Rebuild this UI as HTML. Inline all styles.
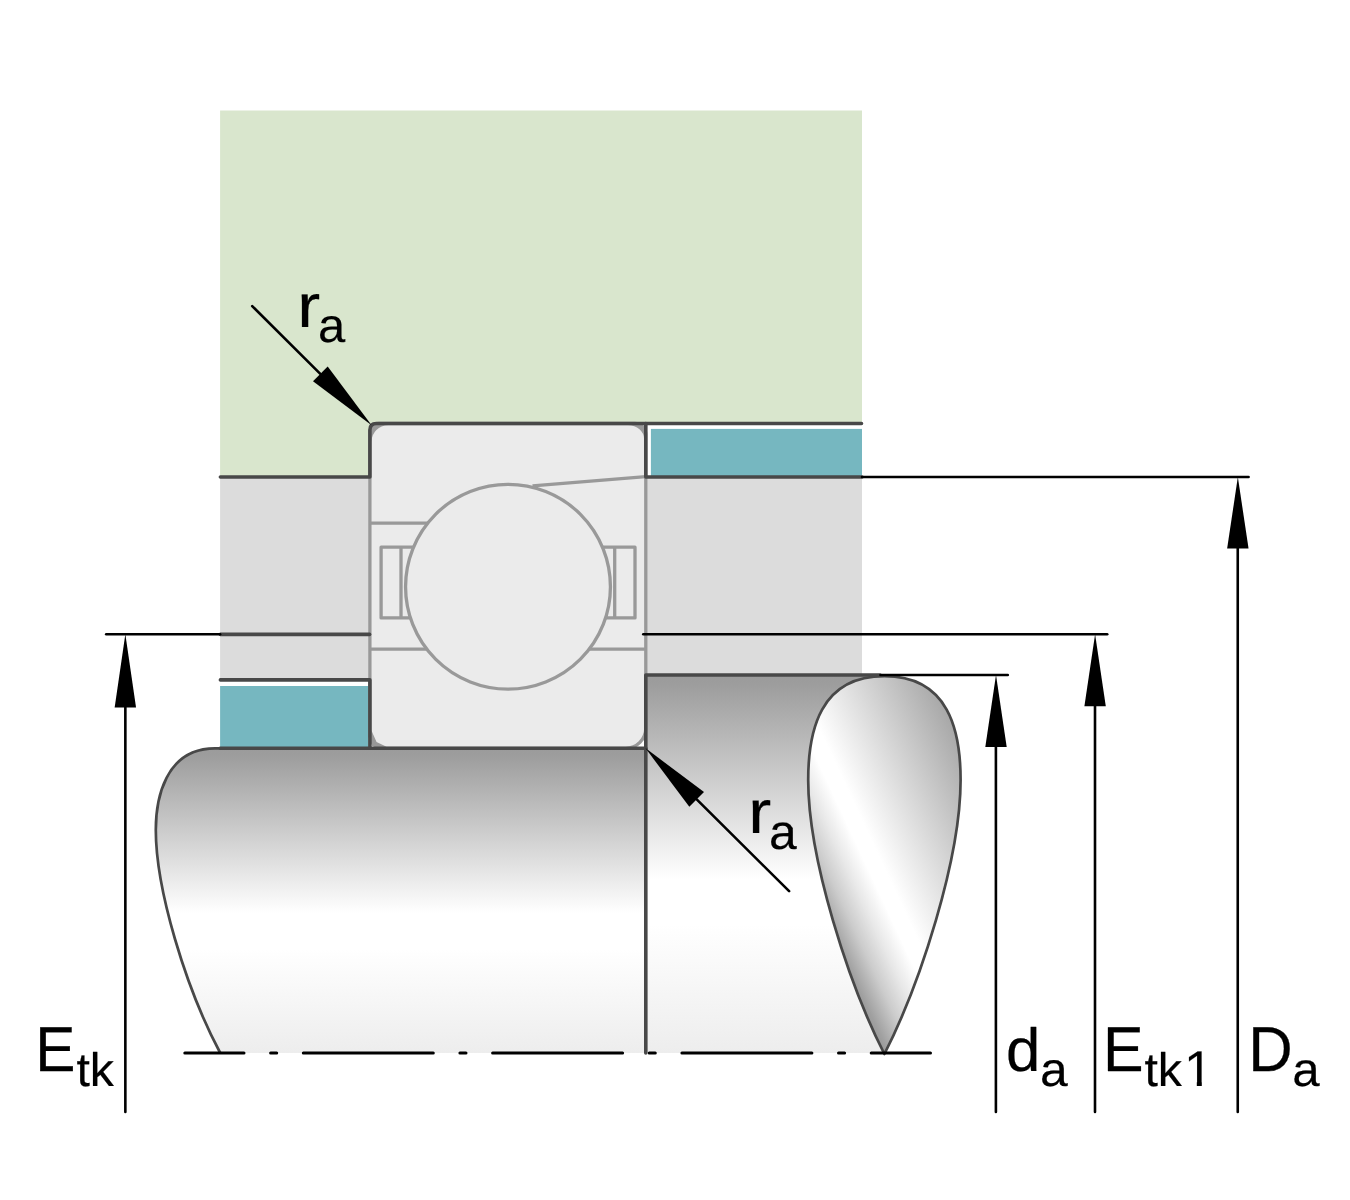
<!DOCTYPE html>
<html lang="en">
<head>
<meta charset="utf-8">
<title>Bearing abutment dimensions</title>
<style>
html,body{margin:0;padding:0;background:#fff;}
body{width:1350px;height:1200px;overflow:hidden;}
svg{display:block;will-change:transform;}
text{font-family:"Liberation Sans",Arial,Helvetica,sans-serif;fill:#000;vector-effect:non-scaling-stroke;text-rendering:geometricPrecision;}
</style>
</head>
<body>
<svg width="1350" height="1200" viewBox="0 0 1350 1200" role="img" aria-label="Bearing abutment dimensions: ra, Etk, da, Etk1, Da">
<defs>
<linearGradient id="gShaftL" x1="0" y1="748.3" x2="0" y2="1053.0" gradientUnits="userSpaceOnUse"><stop offset="0" stop-color="#9b9b9b"/><stop offset="0.025" stop-color="#9d9d9d"/><stop offset="0.54" stop-color="#ffffff"/><stop offset="0.66" stop-color="#ffffff"/><stop offset="1" stop-color="#ededed"/></linearGradient>
<linearGradient id="gShaftR" x1="0" y1="675.0" x2="0" y2="1053.0" gradientUnits="userSpaceOnUse"><stop offset="0" stop-color="#9b9b9b"/><stop offset="0.025" stop-color="#9d9d9d"/><stop offset="0.54" stop-color="#ffffff"/><stop offset="0.66" stop-color="#ffffff"/><stop offset="1" stop-color="#ededed"/></linearGradient>
<linearGradient id="gDrop" x1="811.6" y1="899.1" x2="994.6" y2="813.6" gradientUnits="userSpaceOnUse"><stop offset="0" stop-color="#999999"/><stop offset="0.0248" stop-color="#a0a0a0"/><stop offset="0.1287" stop-color="#cccccc"/><stop offset="0.2228" stop-color="#e8e8e8"/><stop offset="0.3168" stop-color="#ffffff"/><stop offset="0.3911" stop-color="#ffffff"/><stop offset="1" stop-color="#a8a8a8"/></linearGradient>
<clipPath id="c1" clipPathUnits="userSpaceOnUse"><path d="M-200,-200H34.4V10H24.8V-10H-200Z"/></clipPath>
</defs>
<rect width="1350" height="1200" fill="#fff"/>
<!-- housing -->
<path d="M220.1,110.6H862.0V423.5H369.9V477.05H220.1Z" fill="#d9e6cd"/>
<rect x="220.1" y="477.05" width="149.8" height="201.35" fill="#dcdcdc"/>
<rect x="645.8" y="477.05" width="216.2" height="197.95" fill="#dcdcdc"/>
<!-- spacer rings -->
<rect x="650.9" y="428.9" width="211.1" height="48.15" fill="#76b7c0"/>
<rect x="220.1" y="686" width="148.3" height="62.3" fill="#76b7c0"/>
<!-- shaft -->
<path d="M645.8,748.3H215C164.8,748.3 155.8,799.7 155.8,830C155.8,889 185.5,987.5 220,1053.0H645.8Z" fill="url(#gShaftL)"/>
<rect x="645.8" y="675.0" width="238.8" height="378.0" fill="url(#gShaftR)"/>
<path d="M884.4,676.2C948.8,676.2 960.6,730.5 960.6,780.0C960.6,859.0 920.1,983.9 884.4,1054.0C848.7,983.9 808.2,859.0 808.2,780.0C808.2,730.5 820.0,676.2 884.4,676.2Z" fill="url(#gDrop)" stroke="#484848" stroke-width="2.7" stroke-linejoin="round"/>
<path d="M222,748.3H215C164.8,748.3 155.8,799.7 155.8,830C155.8,889 185.5,987.5 220,1052.5" fill="none" stroke="#484848" stroke-width="2.7" stroke-linecap="round"/>
<!-- bearing -->
<path d="M378.9,423.5H634.8A11,11 0 0 1 645.8,434.5V728.3A20,20 0 0 1 625.8,748.3H381.9L373.4,744.8L369.9,736.3V432.5A9,9 0 0 1 378.9,423.5Z" fill="#999" stroke="#999" stroke-width="3.3" stroke-linejoin="round"/>
<path d="M388.05,425.15H628.15A16,14 0 0 1 644.15,439.15V728.15A18.5,18.5 0 0 1 625.65,746.65H386.55L376.55,742.05L371.55,730.65V441.65A16.5,16.5 0 0 1 388.05,425.15Z" fill="#ebebeb"/>
<g fill="none" stroke="#999" stroke-width="3.3" stroke-linejoin="round">
<path d="M369.9,523.1H432M369.9,649.2H432M584,649.2H645.8"/>
<path d="M381.1,547.2H420V617.9H381.1ZM401,547.2V617.9"/>
<path d="M635,547.2H596V617.9H635ZM614.7,547.2V617.9"/>
<path d="M532.5,485.9L645.8,476.6"/>
</g>
<circle cx="508.0" cy="586.75" r="102.45" fill="#ebebeb" stroke="#999" stroke-width="3.3"/>
<!-- part outlines -->
<g fill="none" stroke="#484848" stroke-width="3.6" stroke-linecap="round" stroke-linejoin="round">
<path d="M220.4,477.05H369.9V430.0Q369.9,423.5 376.4,423.5H861.5"/>
<path d="M645.8,423.5V477.05H862.0"/>
<path d="M220.4,679.9H369.9V748.3"/>
<path d="M220.1,748.3H645.8"/>
<path d="M220.4,634.4H369.6"/>
<path d="M880,675.0H645.8V1053.0"/>
</g>
<!-- dimension lines -->
<g fill="none" stroke="#000" stroke-width="2.6" stroke-linecap="round">
<path d="M106.2,634.3H220.1"/>
<path d="M643.3,634.3H1107.2"/>
<path d="M862.0,476.95H1248.6"/>
<path d="M880.5,675.0H1007.8"/>
<path d="M125.35,700V1112M995.9,740V1112M1095.0,700V1112M1237.75,545V1112"/>
<path d="M252.2,306.1L320.3,373.9M789.1,891.2L696.7,799.4"/>
</g>
<path d="M184.8,1053.0H244.0M270.6,1053.0H276.7M303.3,1053.0H433.3M459.9,1053.0H466.0M492.6,1053.0H622.6M649.2,1053.0H655.3M681.9,1053.0H811.9M838.5,1053.0H844.6M871.2,1053.0H930.5" fill="none" stroke="#000" stroke-width="3" stroke-linecap="round"/>
<g fill="#000">
<path d="M125.35,634.3L136.05,707.6H114.65Z"/>
<path d="M996.0,675.0L1006.7,746.9H985.3Z"/>
<path d="M1095.1,634.3L1105.8,706.15H1084.4Z"/>
<path d="M1237.85,477.05L1248.55,548.55H1227.15Z"/>
<path d="M371.6,425.2L313.0,381.3L327.7,366.6Z"/>
<path d="M645.4,748.1L704.0,792.0L689.3,806.7Z"/>
</g>
<!-- labels -->
<g font-size="100" stroke="#000" stroke-width="0.4" stroke-linejoin="round">
<text transform="matrix(0.6883 0 0 0.6133 297.13 327.03)">r</text>
<text transform="matrix(0.4892 0 0 0.4837 318.02 342.17)">a</text>
<text transform="matrix(0.6893 0 0 0.6110 748.32 832.94)">r</text>
<text transform="matrix(0.4981 0 0 0.4927 768.92 848.79)">a</text>
<text transform="matrix(0.6029 0 0 0.6349 35.16 1070.98)">E</text>
<text transform="matrix(0.4830 0 0 0.4710 76.39 1086.13)">tk</text>
<text transform="matrix(0.6169 0 0 0.6080 1005.88 1071.09)">d</text>
<text transform="matrix(0.4979 0 0 0.4822 1039.92 1086.38)">a</text>
<text transform="matrix(0.6088 0 0 0.6347 1103.02 1070.98)">E</text>
<text transform="matrix(0.4830 0 0 0.4710 1144.39 1086.13)">tk</text>
<text transform="matrix(0.5205 0 0 0.5014 1183.89 1086.48)" clip-path="url(#c1)">1</text>
<text transform="matrix(0.6155 0 0 0.6350 1248.34 1070.98)">D</text>
<text transform="matrix(0.4922 0 0 0.4806 1292.35 1086.16)">a</text>
</g>
</svg>
</body>
</html>
